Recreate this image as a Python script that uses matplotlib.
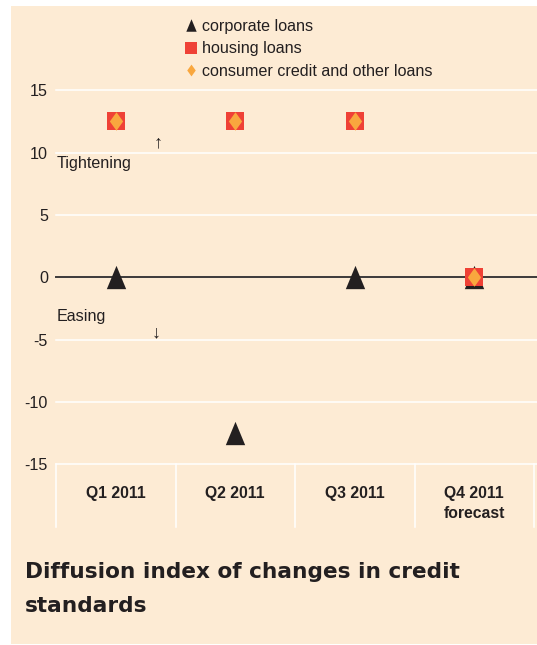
import matplotlib
matplotlib.use("Agg")
import matplotlib.pyplot as plt
from matplotlib.lines import Line2D
from matplotlib.patches import Rectangle
import numpy as np

categories = ["Q1 2011", "Q2 2011", "Q3 2011", "Q4 2011\nforecast"]
corporate = [0, -12.5, 0, 0]
housing = [12.5, 12.5, 12.5, 0]
consumer = [12.5, 12.5, 12.5, 0]
yticks = [15, 10, 5, 0, -5, -10, -15]
title_lines = ["Diffusion index of changes in credit", "standards"]
series_labels = ["corporate loans", "housing loans", "consumer credit and other loans"]

BG = "#fdebd4"
DARK = "#231f20"
RED = "#ef4136"
ORANGE = "#f9a73e"

plt.rcParams["font.family"] = ["Liberation Sans", "DejaVu Sans"]
FS = 11.6

W, H = 537, 645
fig = plt.figure(figsize=(W / 100, H / 100), dpi=100)
fig.patch.set_facecolor("white")

def fx(px):
    return px / W

def fy(py):
    return 1 - py / H

# background panel
fig.patches.append(Rectangle((fx(11), fy(644)), fx(537) - fx(11), fy(6) - fy(644),
                             transform=fig.transFigure, facecolor=BG,
                             edgecolor="none", zorder=-10))

L, R, T, B = 56, 534, 90.3, 464.3
ax = fig.add_axes([fx(L), fy(B), fx(R) - fx(L), fy(T) - fy(B)])
ax.set_facecolor("none")
ax.set_xlim(0.5, 4.5)
ax.set_ylim(-15, 15)
for s in ax.spines.values():
    s.set_visible(False)
ax.set_xticks([])
ax.set_yticks(yticks)
ax.set_yticklabels([str(t) for t in yticks], fontsize=FS, color=DARK)
ax.tick_params(axis="y", length=0, pad=5.8)

ytr = ax.get_yaxis_transform()
xmax = (537 - L) / (R - L)
for t in yticks:
    if t != 0:
        ax.plot([0, xmax], [t, t], transform=ytr, color="white", lw=1.1,
                zorder=1, clip_on=False)
ax.plot([0, xmax], [0, 0], transform=ytr, color="#3c3a3a", lw=1.4,
        zorder=2, clip_on=False)

x = np.arange(1, len(categories) + 1)

# category dividers and labels below axes
for b in np.arange(0.5, len(categories) + 1, 1.0):
    ax.plot([b, b], [-15, -20.0], color="white", lw=1.1, clip_on=False, zorder=1)
for xi, lab in zip(x, categories):
    ax.text(xi, -16.75, lab, ha="center", va="top", fontsize=11.3,
            fontweight="bold", color=DARK, linespacing=1.38)

tri = [(-0.83, -1.0), (0.83, -1.0), (0.0, 1.0)]
dia = [(0.0, 1.0), (0.72, 0.0), (0.0, -1.0), (-0.72, 0.0)]

ax.plot(x, corporate, linestyle="none", marker=tri, ms=16.8, color=DARK,
        markeredgewidth=0, zorder=3, clip_on=False)
ax.plot(x, housing, linestyle="none", marker="s", ms=12.6, color=RED,
        markeredgewidth=0, zorder=4, clip_on=False)
ax.plot(x, consumer, linestyle="none", marker=dia, ms=13.3, color=ORANGE,
        markeredgewidth=0, zorder=5, clip_on=False)

fig.text(fx(57), fy(168), "Tightening", ha="left", va="baseline", fontsize=FS, color=DARK)
fig.text(fx(158.3), fy(143), "\u2191", ha="center", va="center", fontsize=13, color=DARK)
fig.text(fx(57), fy(321), "Easing", ha="left", va="baseline", fontsize=FS, color=DARK)
fig.text(fx(156.5), fy(333), "\u2193", ha="center", va="center", fontsize=13, color=DARK)

handles = [
    Line2D([], [], linestyle="none", marker=tri, ms=9, color=DARK, markeredgewidth=0),
    Line2D([], [], linestyle="none", marker="s", ms=8.5, color=RED, markeredgewidth=0),
    Line2D([], [], linestyle="none", marker=dia, ms=8.5, color=ORANGE, markeredgewidth=0),
]
leg = fig.legend(handles, series_labels, loc="upper left",
                 bbox_to_anchor=(fx(185), fy(19)), frameon=False, fontsize=FS,
                 handlelength=0.8, handletextpad=0.28, labelspacing=0.45,
                 borderpad=0, borderaxespad=0)
for t in leg.get_texts():
    t.set_color(DARK)

for yb, line in zip([578, 612], title_lines):
    fig.text(fx(25), fy(yb), line, ha="left", va="baseline", fontsize=15.6,
             fontweight="bold", color=DARK, family=["DejaVu Sans"])

fig.savefig("out.png", dpi=100, facecolor="white")
